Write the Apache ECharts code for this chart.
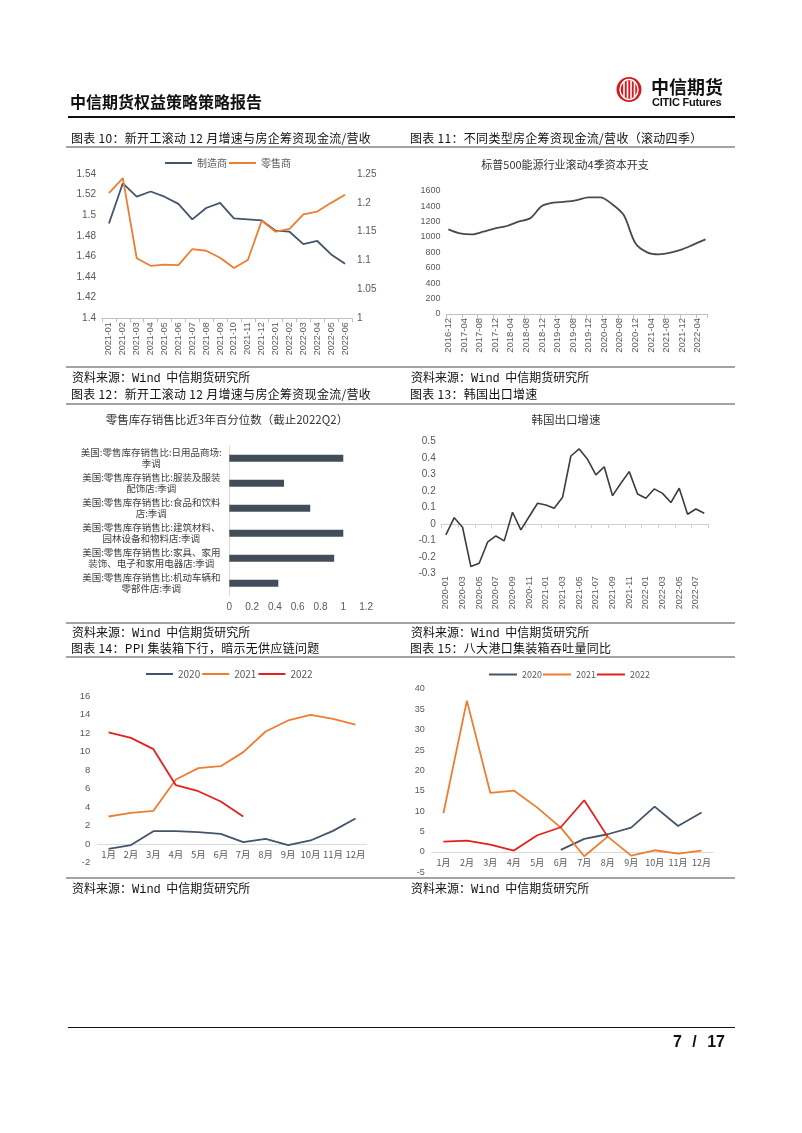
<!DOCTYPE html>
<html><head><meta charset="utf-8">
<script src="https://cdn.jsdelivr.net/npm/echarts@6/dist/echarts.min.js"></script>
<style>
html,body{margin:0;padding:0;background:#fff;}
#page{position:relative;width:802px;height:1133px;overflow:hidden;font-family:'Noto Sans CJK SC','Liberation Sans',sans-serif;color:#111;}
#chart{position:absolute;left:0;top:0;width:802px;height:1133px;}
.t{position:absolute;white-space:pre;pointer-events:none;}
.cap{font-size:12px;line-height:16px;letter-spacing:0.3px;}
.src{font-size:12px;line-height:16px;}
.mono{font-family:'Liberation Mono','DejaVu Sans Mono',monospace;}
.gl{position:absolute;left:66px;width:669px;height:2px;background:#a3a3a3;}
</style></head>
<body><div id="page">
<div id="chart"></div>
<div class="t" style="left:70px;top:91px;font-size:16px;line-height:20px;font-weight:bold;">中信期货权益策略策略报告</div>
<svg class="t" style="left:612px;top:73px" width="34" height="34">
 <circle cx="17" cy="16.5" r="12.5" fill="#d7191f"/>
 <ellipse cx="17" cy="16.5" rx="9" ry="10" fill="none" stroke="#fff" stroke-width="1.4"/>
 <line x1="12" y1="9" x2="12" y2="24" stroke="#fff" stroke-width="1.6"/>
 <line x1="15.5" y1="8" x2="15.5" y2="25" stroke="#fff" stroke-width="1.6"/>
 <line x1="19" y1="8" x2="19" y2="25" stroke="#fff" stroke-width="1.6"/>
 <line x1="22.5" y1="9" x2="22.5" y2="24" stroke="#fff" stroke-width="1.6"/>
</svg>
<div class="t" style="left:651px;top:75px;font-size:18px;line-height:22px;font-weight:bold;">中信期货</div>
<div class="t" style="left:652px;top:95px;font-size:11px;line-height:14px;font-weight:bold;font-family:'Liberation Sans',sans-serif;letter-spacing:-0.2px;">CITIC Futures</div>
<div style="position:absolute;left:68px;top:116px;width:667px;height:2px;background:#111;"></div>

<div class="t cap" style="left:71px;top:130px;">图表 10：新开工滚动 12 月增速与房企筹资现金流/营收</div>
<div class="t cap" style="left:410px;top:130px;">图表 11：不同类型房企筹资现金流/营收（滚动四季）</div>
<div class="gl" style="top:146px;"></div>
<div class="gl" style="top:366px;"></div>
<div class="t src" style="left:72px;top:369px;">资料来源：<span class="mono">Wind</span>  中信期货研究所</div>
<div class="t src" style="left:411px;top:369px;">资料来源：<span class="mono">Wind</span>  中信期货研究所</div>

<div class="t cap" style="left:71px;top:386px;">图表 12：新开工滚动 12 月增速与房企筹资现金流/营收</div>
<div class="t cap" style="left:410px;top:386px;">图表 13：韩国出口增速</div>
<div class="gl" style="top:403px;"></div>
<div class="gl" style="top:622px;"></div>
<div class="t src" style="left:72px;top:624px;">资料来源：<span class="mono">Wind</span>  中信期货研究所</div>
<div class="t src" style="left:411px;top:624px;">资料来源：<span class="mono">Wind</span>  中信期货研究所</div>

<div class="t cap" style="left:71px;top:640px;">图表 14：PPI 集装箱下行，暗示无供应链问题</div>
<div class="t cap" style="left:410px;top:640px;">图表 15：八大港口集装箱吞吐量同比</div>
<div class="gl" style="top:656px;"></div>
<div class="gl" style="top:877px;"></div>
<div class="t src" style="left:72px;top:880px;">资料来源：<span class="mono">Wind</span>  中信期货研究所</div>
<div class="t src" style="left:411px;top:880px;">资料来源：<span class="mono">Wind</span>  中信期货研究所</div>

<div style="position:absolute;left:68px;top:1027px;width:667px;height:1px;background:#111;"></div>
<div class="t" style="right:77px;top:1032px;font-size:16px;line-height:20px;font-weight:bold;font-family:'Liberation Sans Narrow','Liberation Sans',sans-serif;word-spacing:6px;">7 / 17</div>
</div>
<script>
// ---------- data ----------
const months10 = ['2021-01','2021-02','2021-03','2021-04','2021-05','2021-06','2021-07','2021-08','2021-09','2021-10','2021-11','2021-12','2022-01','2022-02','2022-03','2022-04','2022-05','2022-06'];
const maker10 = [1.492,1.531,1.518,1.523,1.518,1.511,1.496,1.507,1.512,1.497,1.496,1.495,1.485,1.484,1.472,1.475,1.462,1.453];
const retail10 = [1.217,1.243,1.104,1.091,1.093,1.092,1.120,1.117,1.105,1.087,1.101,1.169,1.150,1.155,1.180,1.185,1.200,1.214];

const capexStart = '2016-12', capexEnd = '2022-06';
const capexQuarters = ['2016-12','2017-03','2017-06','2017-09','2017-12','2018-03','2018-06','2018-09','2018-12','2019-03','2019-06','2019-09','2019-12','2020-03','2020-06','2020-09','2020-12','2021-03','2021-06','2021-09','2021-12','2022-03','2022-06'];
const capexValues = [1098,1046,1033,1068,1111,1142,1198,1241,1401,1444,1457,1479,1513,1513,1427,1284,917,800,774,796,839,904,969];

const cat12 = ['美国:零售库存销售比:日用品商场:\n季调','美国:零售库存销售比:服装及服装\n配饰店:季调','美国:零售库存销售比:食品和饮料\n店:季调','美国:零售库存销售比:建筑材料、\n园林设备和物料店:季调','美国:零售库存销售比:家具、家用\n装饰、电子和家用电器店:季调','美国:零售库存销售比:机动车辆和\n零部件店:季调'];
const val12 = [1.0,0.48,0.71,1.0,0.92,0.43];

const months13 = ['2020-01','2020-02','2020-03','2020-04','2020-05','2020-06','2020-07','2020-08','2020-09','2020-10','2020-11','2020-12','2021-01','2021-02','2021-03','2021-04','2021-05','2021-06','2021-07','2021-08','2021-09','2021-10','2021-11','2021-12','2022-01','2022-02','2022-03','2022-04','2022-05','2022-06','2022-07','2022-08'];
const kr13 = [-0.067,0.038,-0.020,-0.259,-0.239,-0.111,-0.073,-0.103,0.071,-0.036,0.045,0.126,0.115,0.095,0.162,0.413,0.456,0.393,0.298,0.348,0.172,0.247,0.318,0.182,0.156,0.213,0.186,0.130,0.217,0.059,0.091,0.065];

const monthNames = ['1月','2月','3月','4月','5月','6月','7月','8月','9月','10月','11月','12月'];
const ppi2020 = [-0.5,-0.1,1.4,1.4,1.3,1.12,0.22,0.58,-0.1,0.4,1.44,2.77];
const ppi2021 = [2.99,3.38,3.6,6.98,8.21,8.42,9.94,12.17,13.36,13.97,13.54,12.92];
const ppi2022 = [12.06,11.48,10.26,6.37,5.72,4.61,2.99];

const port2020 = [null,null,null,null,null,0.49,3.19,4.34,5.97,11.13,6.38,9.66];
const port2021 = [9.49,37.15,14.48,15.06,10.88,5.97,-1.06,3.76,-0.9,0.41,-0.41,0.33];
const port2022 = [2.54,2.78,1.8,0.33,4.09,6.06,12.68,3.76];

// ---------- helpers ----------
function monthRange(a, b) {
  let [y, m] = a.split('-').map(Number);
  const [ey, em] = b.split('-').map(Number);
  const out = [];
  while (y < ey || (y === ey && m <= em)) {
    out.push(y + '-' + String(m).padStart(2, '0'));
    m++; if (m > 12) { m = 1; y++; }
  }
  return out;
}
const months11 = monthRange(capexStart, capexEnd);
const capexData = months11.map(mm => { const i = capexQuarters.indexOf(mm); return i >= 0 ? capexValues[i] : null; });

const FONT = "'Liberation Sans','Noto Sans CJK SC',sans-serif";
const CJK = "'Noto Sans CJK SC','Liberation Sans',sans-serif";
const GRAY = '#44546A', ORANGE = '#ED7D31', RED = '#E3211C';
const LBL = '#595959';
const none = {show:false};
const plain = v => String(v);
function lab(o) { return Object.assign({color:LBL, fontFamily:FONT}, o); }
function line(name, xi, yi, data, color, extra) {
  return Object.assign({type:'line', name, xAxisIndex:xi, yAxisIndex:yi, data, symbol:'none',
    lineStyle:{width:1.8, color}, itemStyle:{color}, animation:false}, extra || {});
}
function valY(grid, min, max, interval, fs, margin, extra) {
  return Object.assign({gridIndex:grid, type:'value', min, max, interval, axisLine:none, axisTick:none,
    splitLine:none, axisLabel:lab({fontSize:fs, margin, formatter:plain})}, extra || {});
}
function legend(names, left, top, w, fs, gap) {
  return {data:names, left, top, padding:0, icon:'rect', itemWidth:w, itemHeight:2, itemGap:gap,
    textStyle:{fontSize:fs, color:LBL, fontFamily:CJK}, selectedMode:false};
}

const chart = echarts.init(document.getElementById('chart'), null, {renderer:'canvas'});
chart.setOption({
  animation:false,
  backgroundColor:'transparent',
  graphic:[
    {type:'text', x:565, y:165, style:{text:'标普500能源行业滚动4季资本开支', fontSize:11, fontFamily:CJK, fill:'#333', textAlign:'center', textVerticalAlign:'middle', verticalAlign:'middle'}},
    {type:'text', x:227, y:420, style:{text:'零售库存销售比近3年百分位数（截止2022Q2）', fontSize:11.5, fontFamily:CJK, fill:'#333', textAlign:'center', textVerticalAlign:'middle', verticalAlign:'middle'}},
    {type:'text', x:566, y:420, style:{text:'韩国出口增速', fontSize:11.5, fontFamily:CJK, fill:'#333', textAlign:'center', textVerticalAlign:'middle', verticalAlign:'middle'}}
  ],
  legend:[
    legend(['制造商','零售商'], 165, 158, 27, 10, 2),
    legend(['2020','2021','2022'], 146, 669, 27, 10, 2),
    legend(['2020','2021','2022'], 489, 670, 28, 9, 1)
  ],
  grid:[
    {left:102, top:174, width:250, height:144.3},
    {left:446.4, top:190.7, width:261.1, height:123.3},
    {left:229.3, top:445.8, width:136.8, height:150},
    {left:441.7, top:441.7, width:266.7, height:131.6},
    {left:97.3, top:696, width:269.4, height:166.7},
    {left:431.7, top:689, width:281.6, height:183.3}
  ],
  xAxis:[
    {gridIndex:0, type:'category', data:months10, boundaryGap:true,
      axisLine:{lineStyle:{color:'#bfbfbf'}}, axisTick:{show:true, interval:0, length:4, lineStyle:{color:'#bfbfbf'}},
      axisLabel:lab({fontSize:9, rotate:90, interval:0, margin:4}), splitLine:none},
    {gridIndex:1, type:'category', data:months11, boundaryGap:true,
      axisLine:{lineStyle:{color:'#bfbfbf'}}, axisTick:{show:true, interval:3, length:4, lineStyle:{color:'#bfbfbf'}},
      axisLabel:lab({fontSize:9.5, rotate:90, interval:3, margin:4}), splitLine:none},
    {gridIndex:2, type:'value', min:0, max:1.2, interval:0.2, axisLine:none, axisTick:none, splitLine:none,
      axisLabel:lab({fontSize:10, margin:6})},
    {gridIndex:3, type:'category', data:months13, position:'bottom', boundaryGap:true,
      axisLine:{show:false, onZero:false}, axisTick:none, splitLine:none,
      axisLabel:lab({fontSize:9, rotate:90, interval:1, margin:3})},
    {gridIndex:3, type:'category', data:months13, position:'bottom', boundaryGap:true,
      axisLine:{show:true, onZero:true, lineStyle:{color:'#d0d0d0'}},
      axisTick:{show:true, interval:1, length:4, lineStyle:{color:'#d0d0d0'}}, axisLabel:none, splitLine:none},
    {gridIndex:4, type:'category', data:monthNames, boundaryGap:true,
      axisLine:{onZero:true, lineStyle:{color:'#d9d9d9'}}, axisTick:none, splitLine:none,
      axisLabel:lab({fontSize:9.5, margin:-13, interval:0, fontFamily:CJK})},
    {gridIndex:5, type:'category', data:monthNames, boundaryGap:true,
      axisLine:{onZero:true, lineStyle:{color:'#d9d9d9'}}, axisTick:none, splitLine:none,
      axisLabel:lab({fontSize:9, margin:-14, interval:0, fontFamily:CJK})}
  ],
  yAxis:[
    valY(0, 1.4, 1.54, 0.02, 10, 6),
    valY(0, 1, 1.25, 0.05, 10, 5, {position:'right', alignTicks:false}),
    valY(1, 0, 1600, 200, 9, 6),
    {gridIndex:2, type:'category', data:cat12, inverse:true,
      axisLine:{show:true, lineStyle:{color:'#d9d9d9'}}, axisTick:none, splitLine:none,
      axisLabel:{color:'#404040', fontFamily:CJK, fontSize:9.5, lineHeight:11, align:'center', margin:78, interval:0}},
    valY(3, -0.3, 0.5, 0.1, 10, 6),
    valY(4, -2, 16, 2, 9.5, 7),
    valY(5, -5, 40, 5, 9, 7)
  ],
  series:[
    line('制造商', 0, 0, maker10, GRAY),
    line('零售商', 0, 1, retail10, ORANGE),
    line('资本开支', 1, 2, capexData, '#4a4a4a', {connectNulls:true, smooth:0.3}),
    {type:'bar', name:'百分位数', xAxisIndex:2, yAxisIndex:3, data:val12, barWidth:7, itemStyle:{color:'#434d59'}},
    line('韩国出口增速', 3, 4, kr13, '#3c3c3c', {lineStyle:{width:1.6, color:'#3c3c3c'}}),
    line('2020', 5, 5, ppi2020, GRAY),
    line('2021', 5, 5, ppi2021, ORANGE),
    line('2022', 5, 5, ppi2022, RED),
    line('2020', 6, 6, port2020, GRAY),
    line('2021', 6, 6, port2021, ORANGE),
    line('2022', 6, 6, port2022, RED)
  ]
});
</script>
</body></html>
